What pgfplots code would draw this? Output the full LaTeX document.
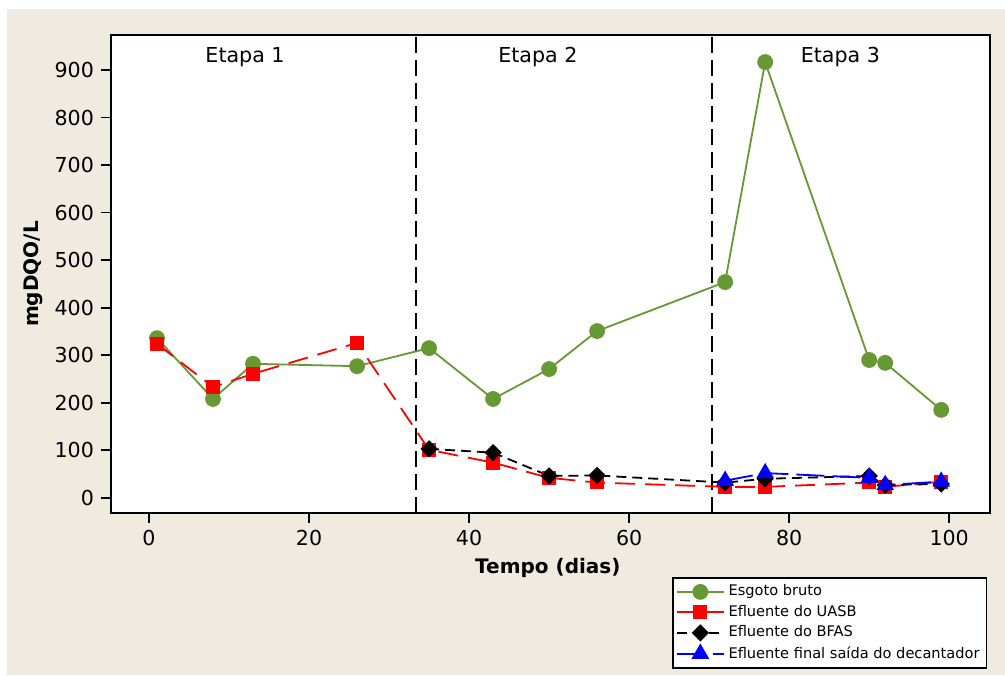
\documentclass[border=0pt]{standalone}
\usepackage{pgfplots}
\pgfplotsset{compat=1.18}
\usepackage{fontspec}
\setmainfont{DejaVu Sans}
\usetikzlibrary{plotmarks}
\definecolor{bg}{HTML}{EFEBE1}
\definecolor{mgreen}{HTML}{669933}
\begin{document}
\begin{tikzpicture}
\useasboundingbox (0,0) rectangle (502.5pt,337.5pt);
\fill[white] (0,0) rectangle (502.5pt,337.5pt);
\fill[bg] (3.5pt,0) rectangle (502.5pt,333pt);
\begin{axis}[
  at={(55.5pt,81pt)}, anchor=south west,
  scale only axis, width=439.5pt, height=239pt,
  xmin=-4.75, xmax=105.1, ymin=-32, ymax=974,
  xtick={0,20,...,100}, ytick={0,100,...,900},
  axis background/.style={fill=white},
  axis line style={line width=1.2pt},
  tick align=outside, major tick length=5pt,
  xtick pos=bottom, ytick pos=left,
  tick style={black, line width=0.8pt},
  tick label style={font=\fontsize{10.3}{12}\selectfont},
  /pgf/number format/assume math mode=true,
  xlabel={\textbf{Tempo (dias)}},
  ylabel={\textbf{mgDQO/L}},
  xlabel style={at={(axis description cs:0.497,-0.115)}, anchor=center, font=\fontsize{10}{12}\selectfont},
  ylabel style={at={(axis description cs:-0.0887,0.5)}, anchor=center, rotate=0, font=\fontsize{10}{12}\selectfont},
  legend style={at={(0.997,-0.134)}, anchor=north east, draw=black, line width=0.8pt, fill=white,
    font=\fontsize{7.3}{8.5}\selectfont, cells={anchor=west}, row sep=-0.8pt, inner sep=1.5pt},
  legend image code/.code={\draw[mark repeat=2,mark phase=2] plot coordinates {(0cm,0cm) (0.41cm,0cm) (0.82cm,0cm)};},
  clip=false,
]
\addplot[black, line width=0.9pt, dash pattern=on 8pt off 3.5pt, forget plot] coordinates {(33.4,-32) (33.4,974)};
\addplot[black, line width=0.9pt, dash pattern=on 8pt off 3.5pt, forget plot] coordinates {(70.4,-32) (70.4,974)};
\addplot[mgreen, line width=0.9pt, mark=*, mark size=3.5pt, mark options={solid, fill=mgreen}] coordinates {
(1,336) (8,208) (13,282) (26,277) (35,315) (43,208) (50,271) (56,351) (72,454) (77,917) (90,290) (92,284) (99,185)};
\addlegendentry{Esgoto bruto}
\addplot[red, line width=0.9pt, dash pattern=on 10pt off 5pt, mark=square*, mark size=3pt, mark options={solid, fill=red}] coordinates {
(1,324) (8,233) (13,261) (26,326) (35,101) (43,74) (50,42) (56,32) (72,23) (77,23) (90,32) (92,23) (99,34)};
\addlegendentry{Efluente do UASB}
\addplot[black, line width=0.9pt, dash pattern=on 5pt off 3pt, mark=square*, mark size=2.6pt, mark options={solid, fill=black, rotate=45}] coordinates {
(35,103) (43,95) (50,46) (56,47) (72,32) (77,40) (90,46) (92,27) (99,29)};
\addlegendentry{Efluente do BFAS}
\addplot[blue, line width=0.9pt, dash pattern=on 14pt off 4pt, mark=triangle*, mark size=4.2pt, mark options={solid, fill=blue}] coordinates {
(72,36) (77,52) (90,42) (92,27) (99,34)};
\addlegendentry{Efluente final saída do decantador}
\node[font=\fontsize{10.3}{12}\selectfont] at (axis cs:12,927) {Etapa 1};
\node[font=\fontsize{10.3}{12}\selectfont] at (axis cs:48.6,927) {Etapa 2};
\node[font=\fontsize{10.3}{12}\selectfont] at (axis cs:86.4,927) {Etapa 3};
\end{axis}
\end{tikzpicture}
\end{document}
